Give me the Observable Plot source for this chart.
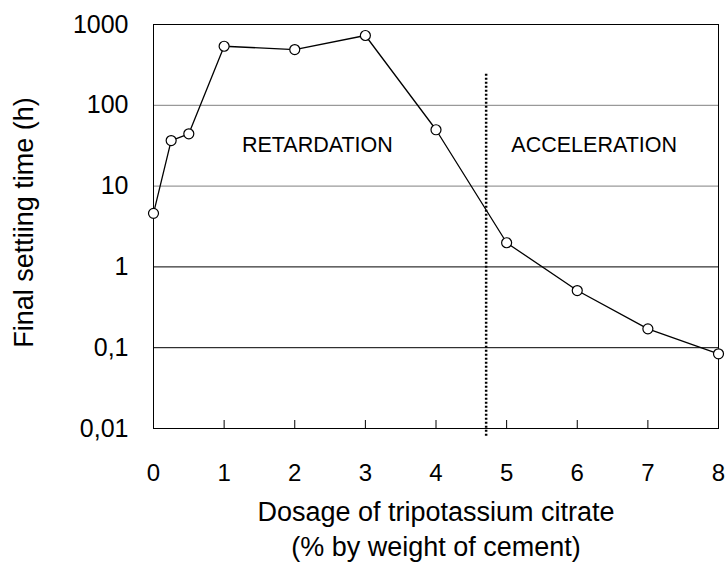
<!DOCTYPE html>
<html><head><meta charset="utf-8">
<script src="https://cdn.jsdelivr.net/npm/d3@7"></script>
<script src="https://cdn.jsdelivr.net/npm/@observablehq/plot@0.6"></script>
<style>
body{margin:0;background:#fff}
svg{font-family:"Liberation Sans",Arial,sans-serif}
</style>
</head><body><div id="chart"></div>
<script>
const dosage = [0, 0.25, 0.5, 1, 2, 3, 4, 5, 6, 7, 8];
const settingTime = [4.6, 36.6, 44.4, 538, 490, 731, 49.8, 1.99, 0.51, 0.171, 0.084];
const xTicks = [0, 1, 2, 3, 4, 5, 6, 7, 8];
const yTicks = [0.01, 0.1, 1, 10, 100, 1000];
const yTickLabels = ["0,01", "0,1", "1", "10", "100", "1000"];
const gridDark = [0.1, 1];
const gridLight = [10, 100];
const regionLabels = ["RETARDATION", "ACCELERATION"];
const regionX = [2.32, 6.24];
const regionY = [31.8, 32];
const dividerX = 4.71;
const dividerY = [0.008, 250];
const yTitle = "Final settiing time (h)";
const xTitle = ["Dosage of tripotassium citrate", "(% by weight of cement)"];

const data = dosage.map((d, i) => ({x: d, y: settingTime[i]}));
const regions = regionLabels.map((t, i) => ({t, x: regionX[i], y: regionY[i]}));

const chart = Plot.plot({
  width: 725,
  height: 570,
  marginLeft: 153,
  marginRight: 7,
  marginTop: 24,
  marginBottom: 142,
  style: {fontFamily: '"Liberation Sans", Arial, sans-serif', color: "black", background: "white"},
  x: {domain: [0, 8]},
  y: {type: "log", domain: [0.01, 1000]},
  marks: [
    Plot.ruleY(gridLight, {stroke: "#808080"}),
    Plot.ruleY(gridDark, {stroke: "#000"}),
    Plot.ruleX([dividerX], {y1: dividerY[0], y2: dividerY[1], stroke: "black", strokeWidth: 2.5, strokeDasharray: "2,2"}),
    Plot.frame({stroke: "black"}),
    Plot.ruleX(xTicks, {insetTop: 396, stroke: "black"}),
    Plot.axisY(yTicks, {tickSize: 0, tickPadding: 25, fontSize: 25, label: null,
      tickFormat: d => yTickLabels[yTicks.indexOf(d)]}),
    Plot.axisX(xTicks, {tickSize: 0, tickPadding: 35, fontSize: 24, label: null}),
    Plot.line(data, {x: "x", y: "y", stroke: "black", strokeWidth: 1.3}),
    Plot.dot(data, {x: "x", y: "y", r: 5, fill: "white", stroke: "black", strokeWidth: 1.2}),
    Plot.text(regions, {x: "x", y: "y", text: "t", fontSize: 21.5, fill: "black"}),
    Plot.text([yTitle], {frameAnchor: "left", textAnchor: "middle", dx: -129, dy: -4, rotate: -90, fontSize: 27, fill: "black"}),
    Plot.text([xTitle[0]], {frameAnchor: "bottom", textAnchor: "middle", dy: 92, fontSize: 27, fill: "black"}),
    Plot.text([xTitle[1]], {frameAnchor: "bottom", textAnchor: "middle", dy: 127, fontSize: 27, fill: "black"})
  ]
});
document.getElementById("chart").appendChild(chart);
</script>
</body></html>
